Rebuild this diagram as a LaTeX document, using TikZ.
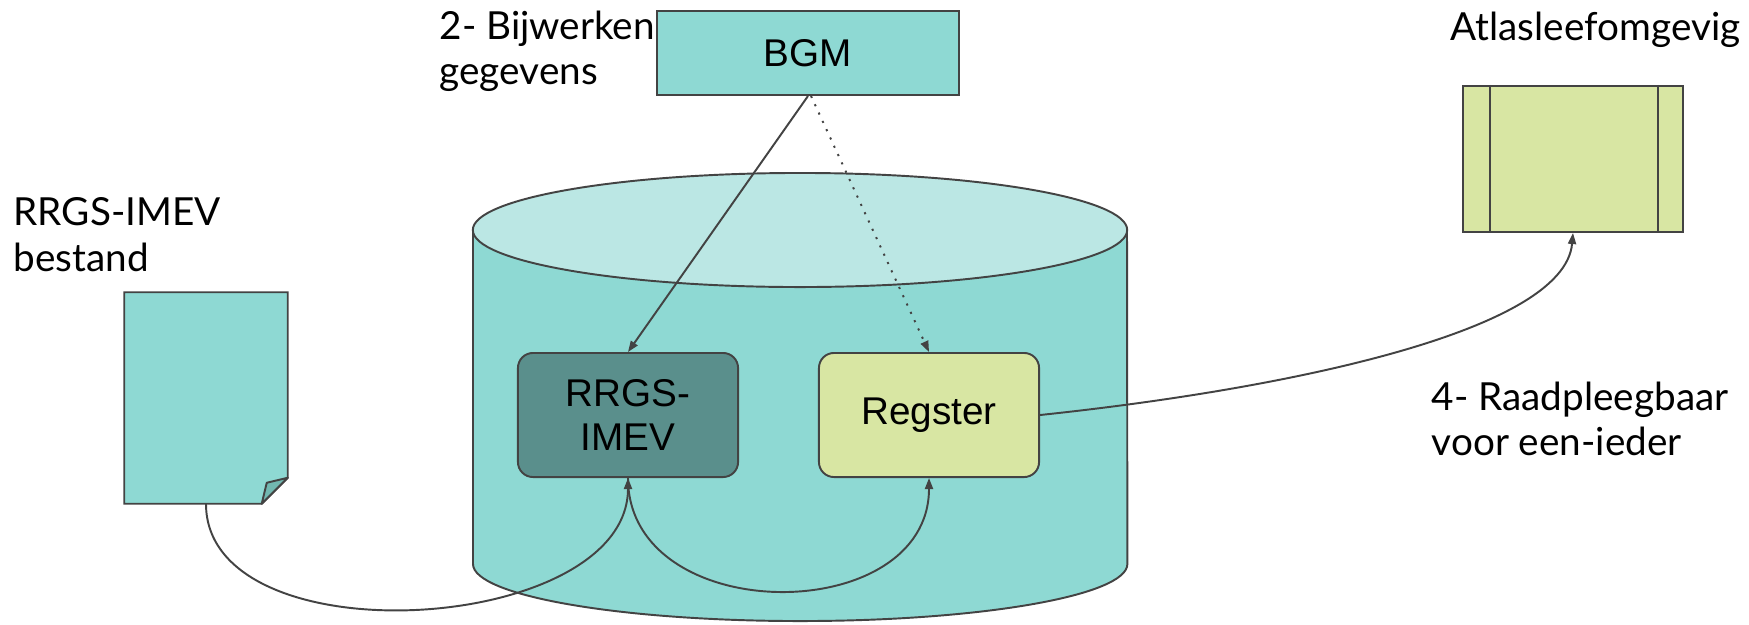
\documentclass[tikz,border=0pt]{standalone}
\usepackage{fontspec}
\setmainfont{Liberation Sans}
\newfontfamily\labelfont{Lato}
\usetikzlibrary{arrows.meta}

\definecolor{tealfill}{HTML}{8ED9D3}
\definecolor{tealtop}{HTML}{BBE7E4}
\definecolor{tealdark}{HTML}{5A8F8C}
\definecolor{greenfill}{HTML}{D8E6A3}
\definecolor{foldfill}{HTML}{72B8B1}
\definecolor{linegray}{HTML}{434343}

\tikzset{
  outline/.style={draw=linegray, line width=0.55pt},
  box/.style={outline, minimum width=2.2cm, minimum height=1.24cm, rounded corners=0.15cm,
    align=center, font=\fontsize{11}{12.5}\selectfont},
  caption/.style={anchor=north west, inner sep=0pt, align=left,
    font=\labelfont\fontsize{11}{13}\selectfont},
  flow/.style={draw=linegray, line width=0.55pt, -{Triangle[length=0.11cm,width=0.08cm]}},
}

\begin{document}
\begin{tikzpicture}[x=0.01cm, y=0.01cm]

    % Page size in pixels of the reference (y runs downwards)
    \path[fill=white, use as bounding box] (0,0) rectangle (1749,-624);

    % Radii of the cylinder
    \def\Rx{3.27cm}
    \def\Ry{0.57cm}

    % Draw the cylinder: body first, then the lighter top
    \filldraw[outline, fill=tealfill] (473,-230) -- (473,-564)
        arc[start angle=180, end angle=360, x radius=\Rx, y radius=\Ry] -- (1127,-230) -- cycle;
    \filldraw[outline, fill=tealtop] (800,-230) ellipse[x radius=\Rx, y radius=\Ry];

    % The boxes
    \node[outline, fill=tealfill, minimum width=3.02cm, minimum height=0.84cm,
        font=\fontsize{11}{12}\selectfont] (bgm) at (808,-53) {BGM};
    \node[box, fill=tealdark] (rrgs) at (628,-415) {RRGS-\\IMEV};
    \node[box, fill=greenfill] (regster) at (929,-415) {Regster};

    % Window of the atlas, with its two side bars
    \node[outline, fill=greenfill, minimum width=2.2cm, minimum height=1.46cm] (atlas) at (1573,-159) {};
    \draw[outline] ([xshift=0.28cm]atlas.north west) -- ([xshift=0.28cm]atlas.south west);
    \draw[outline] ([xshift=-0.26cm]atlas.north east) -- ([xshift=-0.26cm]atlas.south east);

    % Document with a folded corner
    \node[minimum width=1.62cm, minimum height=2.1cm] (doc) at (206,-398) {};
    \filldraw[outline, fill=tealfill] (doc.north west) -- (doc.north east)
        -- ([yshift=0.26cm]doc.south east) -- ([xshift=-0.26cm]doc.south east)
        -- (doc.south west) -- cycle;
    \filldraw[outline, fill=foldfill, line join=round] ([xshift=-0.26cm]doc.south east)
        -- ([xshift=-0.21cm, yshift=0.21cm]doc.south east) -- ([yshift=0.26cm]doc.south east) -- cycle;

    % Connectors
    \draw[flow] (bgm.south) -- (rrgs.north);
    \draw[flow, dash pattern=on 0.6pt off 2pt] ([xshift=0.03cm]bgm.south) -- (regster.north);
    \draw[flow] (doc.south) to[out=-90, in=-90, looseness=0.95] (rrgs.south);
    \draw[flow] (rrgs.south) to[out=-90, in=-90, looseness=1.28] (regster.south);
    \draw[flow] (regster.east) .. controls +(6:2.4cm) and +(-95:1cm) .. (atlas.south);

    % Labels
    \node[caption] (bijwerken) at (439,-10) {2- Bijwerken\\gegevens};
    \node[caption] (bestand) at (13,-197) {RRGS-IMEV\\bestand};
    \node[caption] (atlaslabel) at (1450,-11) {Atlasleefomgevig};
    \node[caption] (raadpleeg) at (1431,-381) {4- Raadpleegbaar\\voor een-ieder};

\end{tikzpicture}
\end{document}
